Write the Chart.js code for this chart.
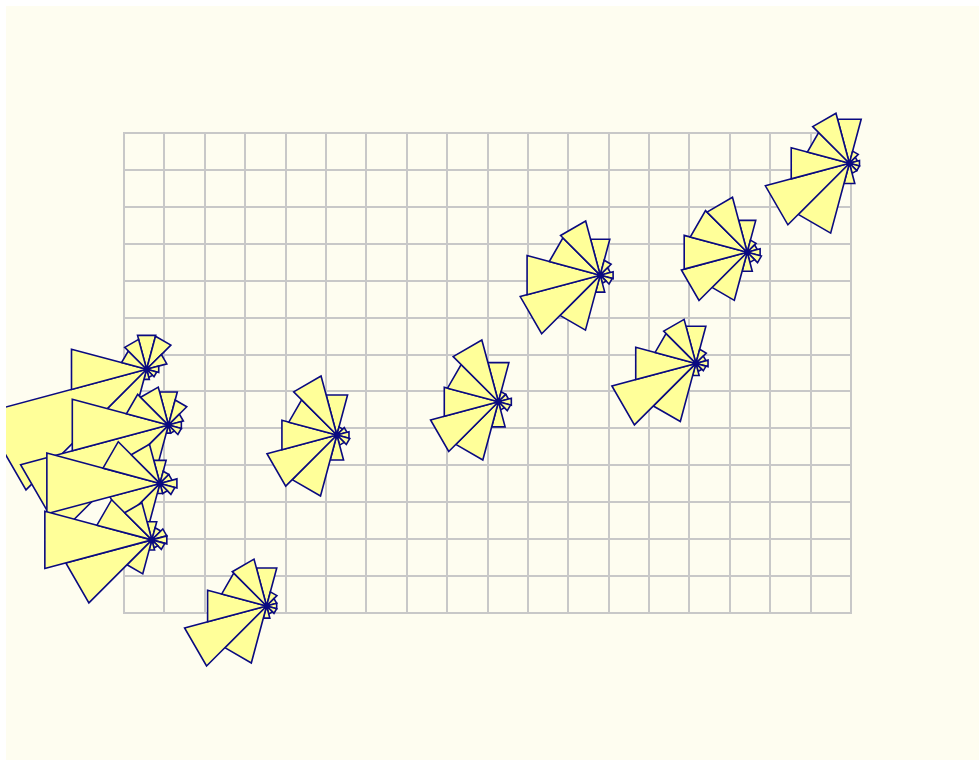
<!DOCTYPE html>
<html>
<head>
<meta charset="utf-8">
<title>Wind roses</title>
<script src="https://cdn.jsdelivr.net/npm/chart.js@4/dist/chart.umd.min.js"></script>
<style>
  html, body { margin: 0; padding: 0; background: #ffffff; }
  #wrap { position: absolute; left: 6px; top: 6px; width: 973px; height: 754px; }
</style>
</head>
<body>
<div id="wrap"><canvas id="c" width="973" height="754"></canvas></div>
<script>
// Station positions in grid units (x east, y north)
const stationX = [0.56, 1.10, 0.89, 0.69, 3.53, 5.27, 9.27, 11.79, 14.16, 15.43, 17.96];
const stationY = [6.60, 5.09, 3.51, 1.98, 0.19, 4.82, 5.72, 9.15, 6.76, 9.77, 12.18];

// Direction sectors (degrees clockwise from north), 30° wide
const directions = [0, 30, 60, 90, 120, 150, 180, 210, 240, 270, 300, 330];

// Frequency (%) per direction for each station
const freq1  = [8.4, 8.2, 5.0, 3.0, 2.5, 2.0, 2.5, 14.4, 40.8, 18.6, 6.2, 7.4];
const freq2  = [8.2, 6.2, 3.7, 3.2, 3.2, 2.0, 2.0, 11.1, 36.6, 23.8, 10.4, 9.4];
const freq3  = [5.7, 3.0, 3.0, 4.2, 3.7, 2.5, 2.5, 10.1, 12.4, 28.0, 14.1, 9.7];
const freq4  = [4.5, 3.0, 3.7, 3.7, 3.2, 2.0, 2.5, 8.4, 21.3, 26.5, 13.6, 9.2];
const freq5  = [9.4, 3.5, 2.5, 2.5, 2.5, 2.0, 3.0, 14.1, 20.3, 14.6, 11.1, 11.6];
const freq6  = [9.9, 2.0, 2.5, 3.0, 3.2, 2.5, 6.2, 15.1, 17.3, 13.6, 11.9, 14.6];
const freq7  = [9.7, 2.5, 2.5, 3.2, 3.0, 2.0, 6.2, 14.4, 16.8, 13.4, 12.6, 15.3];
const freq8  = [8.9, 3.7, 2.5, 3.2, 3.0, 2.0, 4.2, 13.6, 19.8, 18.1, 12.6, 13.4];
const freq9  = [9.2, 3.5, 2.5, 3.0, 2.5, 2.0, 3.0, 14.4, 20.8, 14.9, 10.1, 10.9];
const freq10 = [7.9, 3.0, 2.5, 3.2, 3.5, 2.5, 4.7, 11.9, 16.3, 15.6, 14.1, 13.6];
const freq11 = [10.9, 3.0, 2.0, 2.5, 2.5, 2.5, 5.0, 17.3, 20.8, 14.4, 10.4, 12.4];
const roseFreqs = [freq1, freq2, freq3, freq4, freq5, freq6, freq7, freq8, freq9, freq10, freq11];

// Grid extent
const gridCols = 18;
const gridRows = 13;
// Percent represented by one grid cell along the rose radius
const percentPerCell = 10;

const background = {
  id: 'background',
  beforeDraw(chart) {
    const ctx = chart.ctx;
    ctx.save();
    ctx.fillStyle = '#fefdf0';
    ctx.fillRect(0, 0, chart.width, chart.height);
    ctx.restore();
  }
};

const windRoses = {
  id: 'windRoses',
  afterDatasetsDraw(chart) {
    const ctx = chart.ctx;
    const xs = chart.scales.x, ys = chart.scales.y;
    const cell = xs.getPixelForValue(1) - xs.getPixelForValue(0);
    const half = 15 * Math.PI / 180;
    ctx.save();
    ctx.lineWidth = 1.6;
    ctx.lineJoin = 'miter';
    roseFreqs.forEach((vals, s) => {
      const cx = xs.getPixelForValue(stationX[s]);
      const cy = ys.getPixelForValue(stationY[s]);
      ctx.strokeStyle = '#0a0a80';
      ctx.fillStyle = '#ffff99';
      vals.forEach((v, i) => {
        const len = v / percentPerCell * cell;
        const r = len / Math.cos(half);
        const a = directions[i] * Math.PI / 180;
        const a0 = a - half, a1 = a + half;
        ctx.beginPath();
        ctx.moveTo(cx, cy);
        ctx.lineTo(cx + r * Math.sin(a0), cy - r * Math.cos(a0));
        ctx.lineTo(cx + r * Math.sin(a1), cy - r * Math.cos(a1));
        ctx.closePath();
        ctx.fill();
        ctx.stroke();
      });
      // hub where the sectors meet
      ctx.fillStyle = '#0a0a80';
      ctx.beginPath();
      ctx.arc(cx, cy, 3, 0, Math.PI * 2);
      ctx.fill();
    });
    ctx.restore();
  }
};

const points = stationX.map((x, i) => ({ x, y: stationY[i] }));

new Chart(document.getElementById('c'), {
  type: 'scatter',
  data: { datasets: [{ data: points, pointRadius: 0, pointHoverRadius: 0 }] },
  options: {
    responsive: false,
    animation: false,
    devicePixelRatio: 1,
    layout: { padding: { left: 118, right: 128, top: 127, bottom: 147 } },
    plugins: { legend: { display: false }, tooltip: { enabled: false } },
    events: [],
    scales: {
      x: {
        type: 'linear', min: 0, max: gridCols,
        ticks: { display: false, stepSize: 1 },
        grid: { color: '#c8c8c8', lineWidth: 2, drawTicks: false },
        border: { display: true, color: '#c8c8c8', width: 2 }
      },
      y: {
        type: 'linear', min: 0, max: gridRows,
        ticks: { display: false, stepSize: 1 },
        grid: { color: '#c8c8c8', lineWidth: 2, drawTicks: false },
        border: { display: true, color: '#c8c8c8', width: 2 }
      }
    }
  },
  plugins: [background, windRoses]
});
</script>
</body>
</html>
